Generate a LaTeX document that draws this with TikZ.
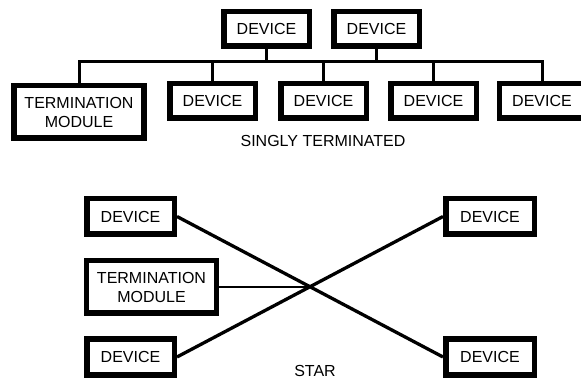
\documentclass[tikz,border=0pt]{standalone}
\usepackage{fontspec}
\setmainfont{Liberation Sans}
\usetikzlibrary{positioning}

\tikzset{
  unit/.style={draw, line width=5.5pt, minimum width=85.5pt, minimum height=34.5pt,
    inner sep=0pt, align=center, font=\fontsize{16}{19}\selectfont},
  module/.style={unit, minimum width=130pt, minimum height=52.5pt},
  wire/.style={line width=3pt},
  label/.style={font=\fontsize{16}{19}\selectfont}
}

\begin{document}
\begin{tikzpicture}[x=1pt,y=-1pt]

        \clip (0,0) rectangle (581,379);

        % singly terminated bus
        \node[unit] (u1) at (266.5,29) {DEVICE};
        \node[unit] (u2) at (376.5,29) {DEVICE};
        \node[module] (tm1) at (79,112) {TERMINATION\\MODULE};
        \node[unit] (d1) at (212.5,101) {DEVICE};
        \node[unit] (d2) at (323.5,101) {DEVICE};
        \node[unit] (d3) at (433.5,101) {DEVICE};
        \node[unit] (d4) at (542,101) {DEVICE};
        \coordinate (bus) at (300,62);
        \draw[wire] (tm1.north) |- (bus) -| (d4.north);
        \foreach \n in {d1,d2,d3} \draw[wire] (\n.north) -- (\n |- bus);
        \foreach \n in {u1,u2} \draw[wire] (\n.south) -- (\n |- bus);
        \node[label] (single) at (323,141) {SINGLY TERMINATED};

        % star
        \node[unit, minimum width=87.5pt, minimum height=35.5pt] (s1) at (130.5,216.5) {DEVICE};
        \node[unit, minimum width=87.5pt, minimum height=35.5pt] (s2) at (130.5,357) {DEVICE};
        \node[unit, minimum width=88.5pt, minimum height=35.5pt] (s3) at (490,216.5) {DEVICE};
        \node[unit, minimum width=88.5pt, minimum height=35.5pt] (s4) at (490,357) {DEVICE};
        \node[module] (tm2) at (151.5,287) {TERMINATION\\MODULE};
        \coordinate (hub) at (intersection of s1.east--s4.west and s2.east--s3.west);
        \draw[line width=3.3pt] (s1.east) -- (s4.west);
        \draw[line width=3.3pt] (s2.east) -- (s3.west);
        \draw[line width=2pt] (tm2.east) -- (tm2.east -| hub);
        \node[label] (star) at (315,371) {STAR};

    \end{tikzpicture}
\end{document}
